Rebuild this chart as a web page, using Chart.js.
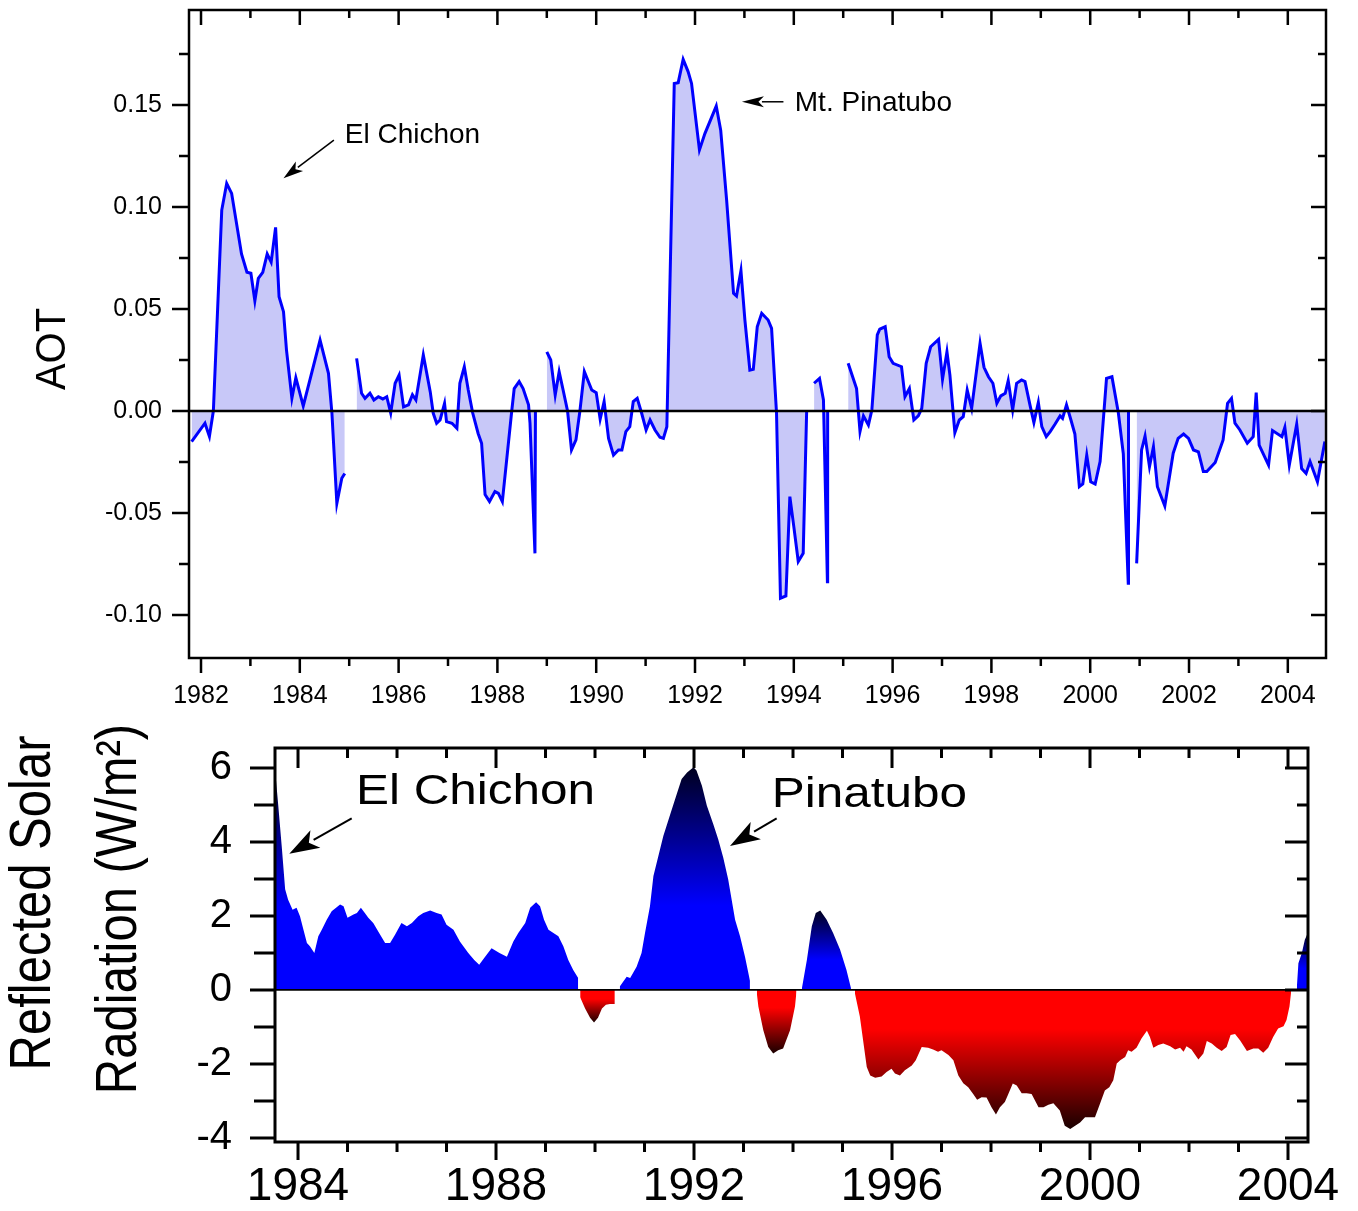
<!DOCTYPE html>
<html>
<head>
<meta charset="utf-8">
<title>AOT and reflected solar radiation</title>
<script src="https://cdn.jsdelivr.net/npm/chart.js@4.4.1/dist/chart.umd.min.js"></script>
<style>
  body { margin: 0; background: #fff; }
  canvas { position: absolute; left: 0; }
  #aotChart { top: 0; }
  #rsrChart { top: 720px; }
</style>
</head>
<body>
<canvas id="aotChart" width="1358" height="720"></canvas>
<canvas id="rsrChart" width="1358" height="491"></canvas>
<script>
// Top panel: aerosol optical thickness anomaly (null = no data)
const aotYears = [
  1981.81, 1982.08, 1982.17, 1982.25, 1982.42, 1982.52, 1982.62, 1982.82, 1982.93, 1983.01,
  1983.09, 1983.16, 1983.25, 1983.34, 1983.42, 1983.51, 1983.58, 1983.67, 1983.73, 1983.84,
  1983.92, 1984.07, 1984.41, 1984.58, 1984.65, 1984.75, 1984.85, 1984.91, 1985.00,
  1985.15, 1985.25, 1985.32, 1985.42, 1985.50, 1985.59, 1985.68, 1985.76, 1985.84, 1985.93,
  1986.01, 1986.10, 1986.20, 1986.28, 1986.35, 1986.50, 1986.64, 1986.70, 1986.77, 1986.84,
  1986.93, 1986.97, 1987.08, 1987.18, 1987.24, 1987.33, 1987.41, 1987.50, 1987.61, 1987.68,
  1987.75, 1987.84, 1987.95, 1988.02, 1988.10, 1988.29, 1988.34, 1988.44, 1988.52, 1988.63,
  1988.66, 1988.76, 1988.77, 1988.88,
  1989.00, 1989.08, 1989.17, 1989.25, 1989.33, 1989.42, 1989.50, 1989.59, 1989.67, 1989.76,
  1989.91, 1990.00, 1990.08, 1990.16, 1990.25, 1990.35, 1990.45, 1990.52, 1990.60, 1990.68,
  1990.75, 1990.83, 1990.92, 1991.01, 1991.09, 1991.19, 1991.29, 1991.36, 1991.43, 1991.58,
  1991.66, 1991.76, 1991.86, 1991.93, 1992.09, 1992.20, 1992.43, 1992.52, 1992.64, 1992.78,
  1992.84, 1992.93, 1993.01, 1993.11, 1993.18, 1993.26, 1993.35, 1993.48, 1993.55, 1993.65,
  1993.73, 1993.84, 1993.92, 1994.00, 1994.09, 1994.19, 1994.26, 1994.33,
  1994.41, 1994.52, 1994.60, 1994.68, 1994.685, 1995.00,
  1995.10, 1995.27, 1995.34, 1995.41, 1995.51, 1995.58, 1995.69, 1995.74, 1995.85, 1995.93,
  1996.01, 1996.18, 1996.25, 1996.34, 1996.43, 1996.52, 1996.59, 1996.68, 1996.77, 1996.93,
  1997.01, 1997.10, 1997.16, 1997.26, 1997.35, 1997.43, 1997.51, 1997.60, 1997.77, 1997.85,
  1997.94, 1998.03, 1998.11, 1998.19, 1998.28, 1998.34, 1998.43, 1998.51, 1998.61, 1998.68,
  1998.78, 1998.86, 1998.95, 1999.02, 1999.11, 1999.19, 1999.29, 1999.39, 1999.44, 1999.52,
  1999.61, 1999.69, 1999.78, 1999.85, 1999.93, 2000.01, 2000.10, 2000.20, 2000.33, 2000.44,
  2000.57, 2000.67, 2000.77, 2000.775, 2000.86,
  2000.94, 2001.04, 2001.11, 2001.20, 2001.28, 2001.36, 2001.51, 2001.68, 2001.78, 2001.89,
  2001.99, 2002.09, 2002.19, 2002.29, 2002.36, 2002.53, 2002.69, 2002.78, 2002.86, 2002.93,
  2003.03, 2003.18, 2003.30, 2003.36, 2003.42, 2003.61, 2003.69, 2003.88, 2003.94, 2004.03,
  2004.18, 2004.28, 2004.37, 2004.45, 2004.60, 2004.75
];
const aotValues = [
  -0.015, -0.006, -0.0125, 0.000, 0.0985, 0.1116, 0.1067, 0.077, 0.068, 0.0675,
  0.054, 0.065, 0.068, 0.077, 0.073, 0.090, 0.056, 0.0487, 0.030, 0.0062,
  0.0163, 0.0025, 0.0348, 0.0185, -0.001, -0.0453, -0.033, -0.0306, null,
  0.0258, 0.0087, 0.0062, 0.0087, 0.0054, 0.007, 0.0059, 0.007, -0.001, 0.0136,
  0.0176, 0.002, 0.003, 0.008, 0.0054, 0.0275, 0.0095, -0.001, -0.006, -0.0044,
  0.0037, -0.0052, -0.006, -0.0085, 0.0136, 0.0217, 0.0103, -0.001, -0.011, -0.0158,
  -0.041, -0.0444, -0.0395, -0.0404, -0.0444, 0.000, 0.011, 0.0144, 0.011, 0.003,
  -0.006, -0.0698, 0.000, null,
  0.029, 0.025, 0.0078, 0.0193, 0.0103, 0.000, -0.0191, -0.0142, 0.000, 0.0193,
  0.0103, 0.009, -0.004, 0.0046, -0.0134, -0.0216, -0.0191, -0.0191, -0.0101, -0.0077,
  0.0046, 0.0062, -0.0011, -0.0093, -0.0044, -0.0093, -0.0129, -0.0134, -0.0077, 0.1606,
  0.161, 0.1724, 0.1664, 0.1606, 0.128, 0.136, 0.1495, 0.1377, 0.1034, 0.0577,
  0.0564, 0.0688, 0.0446, 0.020, 0.0204, 0.0413, 0.0479, 0.0446, 0.0405, -0.001,
  -0.0918, -0.0907, -0.042, -0.0567, -0.0738, -0.0698, 0.000, null,
  0.0136, 0.016, 0.0054, -0.0837, 0.000, null,
  0.0234, 0.011, -0.010, -0.0024, -0.0069, 0.0005, 0.0373, 0.0401, 0.0413, 0.0266,
  0.0234, 0.0217, 0.007, 0.011, -0.0044, -0.0024, 0.0013, 0.0234, 0.0315, 0.0351,
  0.0155, 0.029, 0.0176, -0.0106, -0.0044, -0.0028, 0.0103, 0.0013, 0.0332, 0.0214,
  0.0168, 0.0136, 0.0038, 0.0074, 0.0087, 0.0149, 0.0005, 0.0136, 0.0152, 0.0144,
  0.003, -0.0057, 0.0042, -0.0077, -0.0126, -0.0101, -0.0064, -0.0024, -0.0036, 0.003,
  -0.0044, -0.0113, -0.0371, -0.0358, -0.0216, -0.0347, -0.0358, -0.0248, 0.016, 0.0168,
  -0.001, -0.021, -0.0845, 0.000, null,
  -0.0747, -0.0191, -0.0123, -0.0273, -0.0175, -0.0371, -0.0466, -0.0207, -0.0134, -0.0113,
  -0.0134, -0.0191, -0.020, -0.0297, -0.0297, -0.0252, -0.0142, 0.0038, 0.0062, -0.006,
  -0.0093, -0.0158, -0.0126, 0.009, -0.0167, -0.0265, -0.0096, -0.0126, -0.008, -0.0265,
  -0.0064, -0.0282, -0.0306, -0.0248, -0.0347, -0.015
];
const aotYearTicks = [1982, 1984, 1986, 1988, 1990, 1992, 1994, 1996, 1998, 2000, 2002, 2004];
const aotValueTicks = [-0.10, -0.05, 0, 0.05, 0.10, 0.15];

// Bottom panel: reflected solar radiation anomaly, W/m2
const rsrYears = [
  1983.54, 1983.60, 1983.67, 1983.74, 1983.80, 1983.89, 1983.97, 1984.04, 1984.11, 1984.18,
  1984.24, 1984.33, 1984.41, 1984.48, 1984.58, 1984.68, 1984.85, 1984.92, 1985.00, 1985.12,
  1985.19, 1985.27, 1985.35, 1985.42, 1985.52, 1985.66, 1985.76, 1985.86, 1985.96, 1986.09,
  1986.20, 1986.30, 1986.43, 1986.53, 1986.67, 1986.80, 1986.90, 1987.00, 1987.14, 1987.27,
  1987.44, 1987.56, 1987.66, 1987.78, 1987.91, 1988.07, 1988.22, 1988.35, 1988.45, 1988.59,
  1988.69, 1988.81, 1988.89, 1988.97, 1989.06, 1989.16, 1989.26, 1989.36, 1989.46, 1989.56,
  1989.66,
  1989.70, 1989.80, 1989.90, 1989.98, 1990.06, 1990.14, 1990.22, 1990.30, 1990.40,
  1990.50, 1990.64, 1990.71, 1990.84, 1990.94, 1991.01, 1991.11, 1991.18, 1991.28, 1991.38,
  1991.52, 1991.65, 1991.75, 1991.86, 1991.99, 1992.05, 1992.16, 1992.26, 1992.39, 1992.49,
  1992.59, 1992.69, 1992.83, 1992.93, 1993.03, 1993.13,
  1993.27, 1993.30, 1993.40, 1993.50, 1993.60, 1993.70, 1993.80, 1993.94, 1994.04, 1994.07,
  1994.18, 1994.28, 1994.38, 1994.46, 1994.55, 1994.68, 1994.81, 1994.95, 1995.08, 1995.17,
  1995.25, 1995.35, 1995.49, 1995.56, 1995.66, 1995.79, 1995.89, 1995.99, 1996.06, 1996.16,
  1996.26, 1996.40, 1996.48, 1996.60, 1996.73, 1996.83, 1996.93, 1997.00, 1997.14, 1997.24,
  1997.34, 1997.44, 1997.54, 1997.64, 1997.72, 1997.81, 1997.91, 1998.01, 1998.10, 1998.18,
  1998.28, 1998.35, 1998.44, 1998.52, 1998.62, 1998.72, 1998.82, 1998.96, 1999.06, 1999.16,
  1999.26, 1999.39, 1999.49, 1999.60, 1999.70, 1999.80, 1999.90, 2000.00, 2000.10, 2000.20,
  2000.30, 2000.39, 2000.47, 2000.54, 2000.61, 2000.71, 2000.77, 2000.84, 2000.94, 2001.04,
  2001.15, 2001.21, 2001.28, 2001.38, 2001.48, 2001.62, 2001.72, 2001.82, 2001.89, 2001.95,
  2002.05, 2002.19, 2002.29, 2002.36, 2002.46, 2002.56, 2002.66, 2002.76, 2002.84, 2002.93,
  2003.03, 2003.17, 2003.30, 2003.40, 2003.50, 2003.60, 2003.70, 2003.80, 2003.91, 2003.97,
  2004.03, 2004.06,
  2004.18, 2004.21, 2004.28, 2004.34, 2004.40
];
const rsrValues = [
  5.90, 5.00, 3.90, 2.72, 2.44, 2.17, 2.22, 1.99, 1.63, 1.27,
  1.18, 1.00, 1.45, 1.63, 1.90, 2.13, 2.31, 2.26, 1.95, 2.04,
  2.08, 2.22, 2.08, 1.95, 1.81, 1.49, 1.27, 1.27, 1.49, 1.81,
  1.72, 1.81, 1.99, 2.08, 2.15, 2.08, 2.04, 1.76, 1.63, 1.31,
  1.00, 0.81, 0.68, 0.90, 1.13, 1.00, 0.90, 1.31, 1.54, 1.81,
  2.22, 2.37, 2.26, 1.90, 1.63, 1.54, 1.45, 1.18, 0.81, 0.54,
  0.32,
  -0.20, -0.50, -0.75, -0.88, -0.75, -0.50, -0.40, -0.38, -0.38,
  0.09, 0.36, 0.32, 0.63, 1.00, 1.54, 2.26, 3.08, 3.62, 4.16,
  4.75, 5.29, 5.70, 5.88, 6.02, 5.93, 5.52, 4.98, 4.48, 4.07,
  3.58, 2.99, 1.90, 1.45, 0.90, 0.25,
  -0.10, -0.45, -1.09, -1.54, -1.72, -1.63, -1.58, -1.09, -0.45, -0.05,
  0.05, 0.81, 1.72, 2.08, 2.15, 1.90, 1.54, 1.09, 0.54, 0.05,
  -0.09, -0.72, -2.08, -2.31, -2.37, -2.34, -2.22, -2.13, -2.26, -2.31,
  -2.17, -2.04, -1.90, -1.54, -1.56, -1.61, -1.67, -1.63, -1.76, -1.90,
  -2.31, -2.52, -2.63, -2.81, -2.97, -2.90, -2.91, -3.17, -3.37, -3.17,
  -3.03, -2.81, -2.53, -2.58, -2.79, -2.79, -2.81, -3.17, -3.17, -3.10,
  -3.06, -3.26, -3.67, -3.76, -3.67, -3.58, -3.44, -3.44, -3.44, -3.08,
  -2.72, -2.63, -2.44, -1.99, -1.90, -1.81, -1.63, -1.67, -1.56, -1.31,
  -1.10, -1.27, -1.56, -1.49, -1.45, -1.52, -1.61, -1.56, -1.67, -1.52,
  -1.61, -1.88, -1.72, -1.38, -1.45, -1.56, -1.65, -1.54, -1.22, -1.19,
  -1.36, -1.65, -1.58, -1.58, -1.70, -1.56, -1.27, -1.04, -0.98, -0.81,
  -0.45, -0.09,
  0.10, 0.72, 1.00, 1.36, 1.54
];
const rsrYearTicks = [1984, 1988, 1992, 1996, 2000, 2004];
const rsrValueTicks = [-4, -2, 0, 2, 4, 6];

const FONT = 'Liberation Sans, Arial, Helvetica, sans-serif';
Chart.defaults.font.family = FONT;
Chart.defaults.color = '#000';

// major + minor tick positions for one axis
function tickSet(scale, step) {
  const majors = scale.ticks.map(t => t.value);
  const out = majors.map(v => ({ v, major: true }));
  if (step) {
    for (let k = Math.ceil(scale.min / step - 1e-9); k * step <= scale.max + 1e-9; k++) {
      const v = k * step;
      if (!majors.some(m => Math.abs(m - v) < step / 10)) out.push({ v, major: false });
    }
  }
  return out;
}

function drawText(ctx, t) {
  ctx.save();
  ctx.translate(t.x, t.y);
  if (t.rotate) ctx.rotate(-Math.PI / 2);
  ctx.scale(t.sx || 1, t.sy || 1);
  ctx.font = t.size + 'px ' + FONT;
  ctx.fillStyle = '#000';
  ctx.textAlign = t.align || 'center';
  ctx.textBaseline = 'middle';
  ctx.fillText(t.text, 0, 0);
  ctx.restore();
}

function drawArrow(ctx, x0, y0, x1, y1, head, half, width) {
  const len = Math.hypot(x1 - x0, y1 - y0);
  const ux = (x1 - x0) / len, uy = (y1 - y0) / len;
  const bx = x1 - ux * head, by = y1 - uy * head;
  ctx.save();
  ctx.strokeStyle = '#000';
  ctx.fillStyle = '#000';
  ctx.lineWidth = width;
  ctx.beginPath();
  ctx.moveTo(x0, y0);
  ctx.lineTo(bx + ux * 2, by + uy * 2);
  ctx.stroke();
  ctx.beginPath();
  ctx.moveTo(x1, y1);
  ctx.lineTo(bx - uy * half, by + ux * half);
  ctx.lineTo(bx + ux * head * 0.25, by + uy * head * 0.25);
  ctx.lineTo(bx + uy * half, by - ux * half);
  ctx.closePath();
  ctx.fill();
  ctx.restore();
}

// boxed frame with in/out ticks, zero line, notes and axis titles
const axisFrame = {
  id: 'axisFrame',
  afterDatasetsDraw(chart, args, o) {
    const { ctx, chartArea: a, scales: { y } } = chart;
    const y0 = y.getPixelForValue(0);
    ctx.save();
    ctx.strokeStyle = '#000';
    ctx.lineWidth = o.zeroWidth;
    ctx.beginPath();
    ctx.moveTo(a.left, y0);
    ctx.lineTo(a.right, y0);
    ctx.stroke();
    ctx.restore();
  },
  afterDraw(chart, args, o) {
    const { ctx, chartArea: a, scales: { x, y } } = chart;
    ctx.save();
    ctx.strokeStyle = '#000';
    ctx.lineWidth = o.width;
    ctx.lineCap = 'square';
    ctx.strokeRect(a.left, a.top, a.right - a.left, a.bottom - a.top);
    ctx.lineCap = 'butt';
    ctx.beginPath();
    tickSet(x, o.xMinor).forEach(t => {
      const px = x.getPixelForValue(t.v);
      const out = o.xOut[t.major ? 0 : 1], inn = o.xIn[t.major ? 0 : 1];
      ctx.moveTo(px, a.bottom); ctx.lineTo(px, a.bottom + out);
      ctx.moveTo(px, a.top); ctx.lineTo(px, a.top + inn);
    });
    tickSet(y, o.yMinor).forEach(t => {
      const py = y.getPixelForValue(t.v);
      const out = o.yOut[t.major ? 0 : 1], inn = o.yIn[t.major ? 0 : 1];
      ctx.moveTo(a.left - out, py); ctx.lineTo(a.left, py);
      ctx.moveTo(a.right - inn, py); ctx.lineTo(a.right, py);
    });
    ctx.stroke();
    ctx.restore();

    (o.notes || []).forEach(n => {
      drawArrow(ctx,
        x.getPixelForValue(n.from[0]), y.getPixelForValue(n.from[1]),
        x.getPixelForValue(n.to[0]), y.getPixelForValue(n.to[1]),
        n.head, n.half, n.lineWidth);
      drawText(ctx, {
        text: n.text, x: x.getPixelForValue(n.at[0]), y: y.getPixelForValue(n.at[1]),
        size: n.size, sx: n.sx, align: 'left'
      });
    });
    (o.titles || []).forEach(t => drawText(ctx, t));
  }
};

// fixed axis box sizes, no extra room for edge labels
function fixBox(s, key, size) {
  s[key] = size;
  s.paddingTop = 0;
  s.paddingBottom = 0;
  s.paddingLeft = 0;
  s.paddingRight = 0;
}

function yearAxis(min, max, ticks, height, size, pad) {
  return {
    type: 'linear', min, max,
    afterBuildTicks: s => { s.ticks = ticks.map(v => ({ value: v })); },
    afterFit: s => fixBox(s, 'height', height),
    grid: { display: false, drawTicks: false },
    border: { display: false },
    ticks: { padding: pad, font: { size }, maxRotation: 0, autoSkip: false, callback: v => String(v) }
  };
}

function valueAxis(min, max, ticks, width, size, pad, digits) {
  return {
    type: 'linear', min, max,
    afterBuildTicks: s => { s.ticks = ticks.map(v => ({ value: v })); },
    afterFit: s => fixBox(s, 'width', width),
    grid: { display: false, drawTicks: false },
    border: { display: false },
    ticks: { padding: pad, font: { size }, callback: v => v.toFixed(digits) }
  };
}

// AOT panel
new Chart(document.getElementById('aotChart'), {
  type: 'line',
  data: {
    datasets: [{
      data: aotYears.map((yr, i) => ({ x: yr, y: aotValues[i] })),
      borderColor: '#0000ff',
      borderWidth: 3,
      backgroundColor: 'rgb(200, 200, 248)',
      fill: 'origin',
      pointRadius: 0,
      tension: 0,
      spanGaps: false
    }]
  },
  options: {
    responsive: false,
    animation: false,
    layout: { padding: { left: 0, top: 10, right: 32, bottom: 0 } },
    plugins: {
      legend: { display: false },
      tooltip: { enabled: false },
      axisFrame: {
        width: 2.5, zeroWidth: 2.5,
        xMinor: 1, xOut: [15, 8], xIn: [15, 8],
        yMinor: 0.025, yOut: [17, 10], yIn: [15, 8],
        notes: [
          { text: 'El Chichon', at: [1984.91, 0.1353], from: [1984.69, 0.1328], to: [1983.67, 0.1141],
            size: 28, head: 20, half: 6, lineWidth: 1.5 },
          { text: 'Mt. Pinatubo', at: [1994.02, 0.151], from: [1993.79, 0.1516], to: [1992.95, 0.1516],
            size: 28, head: 22, half: 5.5, lineWidth: 1.5 }
        ],
        titles: [{ text: 'AOT', x: 53, y: 349, size: 40, rotate: true, sy: 1.05 }]
      }
    },
    scales: {
      x: yearAxis(1981.757, 2004.773, aotYearTicks, 62, 25, 23),
      y: valueAxis(-0.1211, 0.1966, aotValueTicks, 189, 25, 27, 2)
    }
  },
  plugins: [axisFrame]
});

// split the radiation series into positive / negative humps
function splitBySign(xs, ys) {
  const parts = [];
  let cur = null;
  xs.forEach((x, i) => {
    const v = ys[i];
    const sign = v >= 0 ? 1 : -1;
    if (!cur || cur.sign !== sign) {
      cur = { sign, peak: 0, pts: [] };
      parts.push(cur);
    }
    cur.pts.push({ x, y: v });
    if (Math.abs(v) > Math.abs(cur.peak)) cur.peak = v;
  });
  return parts;
}

// each hump darkens toward its own extreme
function humpFill(base, dark, peak, start) {
  return function (context) {
    const chart = context.chart;
    if (!chart.chartArea) return base;
    const ys = chart.scales.y;
    const g = chart.ctx.createLinearGradient(0, ys.getPixelForValue(0), 0, ys.getPixelForValue(peak));
    g.addColorStop(0, base);
    g.addColorStop(start, base);
    g.addColorStop(1, dark);
    return g;
  };
}

const rsrParts = splitBySign(rsrYears, rsrValues);

new Chart(document.getElementById('rsrChart'), {
  type: 'line',
  data: {
    datasets: rsrParts.map(p => ({
      data: p.pts,
      borderWidth: 0,
      borderColor: 'rgba(0,0,0,0)',
      backgroundColor: p.sign > 0
        ? humpFill('rgb(0,0,255)', 'rgb(0,0,30)', p.peak, 0.38)
        : humpFill('rgb(255,0,0)', 'rgb(25,0,0)', p.peak, 0.28),
      fill: 'origin',
      pointRadius: 0,
      tension: 0
    }))
  },
  options: {
    responsive: false,
    animation: false,
    layout: { padding: { left: 0, top: 28, right: 50, bottom: 0 } },
    plugins: {
      legend: { display: false },
      tooltip: { enabled: false },
      axisFrame: {
        width: 3, zeroWidth: 1.8,
        xMinor: 1, xOut: [18, 10], xIn: [20, 10],
        yMinor: 1, yOut: [25, 21], yIn: [23, 11],
        notes: [
          { text: 'El Chichon', at: [1985.17, 5.36], from: [1985.085, 4.64], to: [1983.824, 3.68],
            size: 43, sx: 1.15, head: 30, half: 10, lineWidth: 2 },
          { text: 'Pinatubo', at: [1993.57, 5.27], from: [1993.67, 4.64], to: [1992.727, 3.89],
            size: 43, sx: 1.15, head: 30, half: 10, lineWidth: 2 }
        ],
        titles: [
          { text: 'Reflected Solar', x: 34, y: 183, size: 49, rotate: true, sy: 1.17 },
          { text: 'Radiation (W/m\u00b2)', x: 120, y: 189, size: 49, rotate: true, sy: 1.17 }
        ]
      }
    },
    scales: {
      x: yearAxis(1983.535, 2004.404, rsrYearTicks, 69, 46, 18),
      y: valueAxis(-4.11, 6.54, rsrValueTicks, 275, 40, 43, 0)
    }
  },
  plugins: [axisFrame]
});
</script>
</body>
</html>
